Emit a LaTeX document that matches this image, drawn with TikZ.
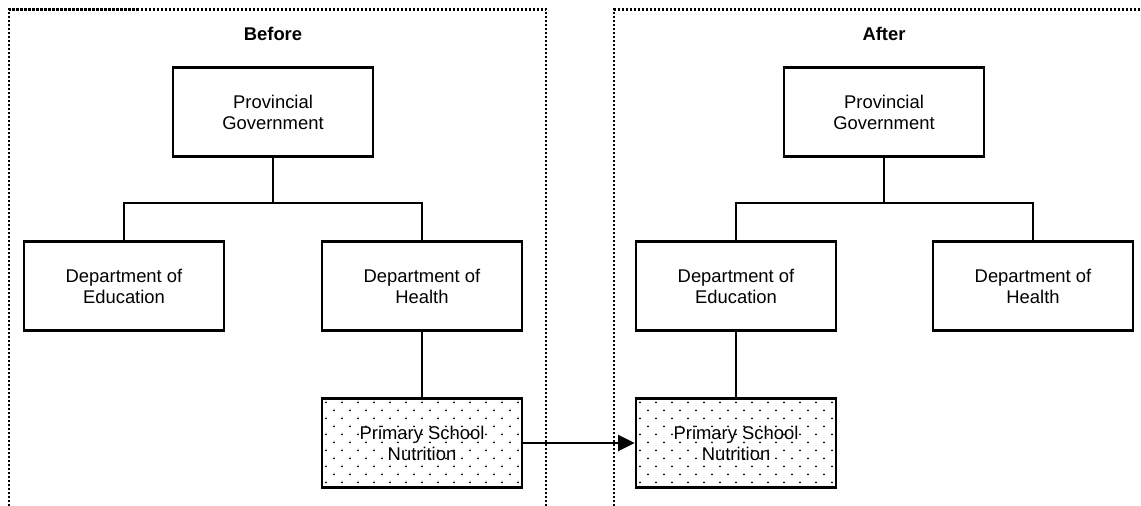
\documentclass[tikz,border=0pt]{standalone}
\usepackage{fontspec}
\setmainfont{Liberation Sans}
\usetikzlibrary{arrows.meta}

\tikzset{
  unit/.style={draw, line width=2pt, minimum width=150pt, minimum height=67pt,
    align=center, inner sep=2pt, font=\fontsize{13.8pt}{15.8pt}\selectfont},
  moved/.style={unit, path picture={
    \foreach \r in {0,...,10}
      \foreach \c in {0,...,12}
        \fill ([xshift={3pt+12pt*\c+6pt*mod(\r,2)}, yshift={-3pt-6pt*\r}]path picture bounding box.north west) circle (0.7pt);
  }},
  frame/.style={line width=1.8pt, dash pattern=on 1.8pt off 1.2pt},
  heading/.style={font=\fontsize{13.8pt}{15.8pt}\selectfont\bfseries},
  link/.style={line width=2pt}
}

\begin{document}
\begin{tikzpicture}[x=0.75pt,y=-0.75pt]

\useasboundingbox (0,0) rectangle (1141,506);

\draw[frame] (9,510)--(9,9.5)--(546,9.5)--(546,510);
\draw[frame] (614,510)--(614,9.5)--(1150,9.5);

\node[heading] (before) at (273,34) {Before};
\node[heading] (after) at (884,34) {After};

% before
\node[unit] (bpg) at (273,112) {Provincial\\Government};
\node[unit] (bdoe) at (124,286) {Department of\\Education};
\node[unit] (bdoh) at (422,286) {Department of\\Health};
\node[moved] (bpsn) at (422,443) {Primary School\\Nutrition};
\coordinate (bsplit) at (273,203);

\draw[link] (bpg.south)--(bsplit);
\draw[link] (bdoe.north) |- (bsplit) -| (bdoh.north);
\draw[link] (bdoh)--(bpsn);

% after
\node[unit] (apg) at (884,112) {Provincial\\Government};
\node[unit] (adoe) at (736,286) {Department of\\Education};
\node[unit] (adoh) at (1033,286) {Department of\\Health};
\node[moved] (apsn) at (736,443) {Primary School\\Nutrition};
\coordinate (asplit) at (884,203);

\draw[link] (apg.south)--(asplit);
\draw[link] (adoe.north) |- (asplit) -| (adoh.north);
\draw[link] (adoe)--(apsn);

\draw[link,-{Triangle[length=12.5pt,width=12pt]}] (bpsn)--(apsn);
\end{tikzpicture}
\end{document}
